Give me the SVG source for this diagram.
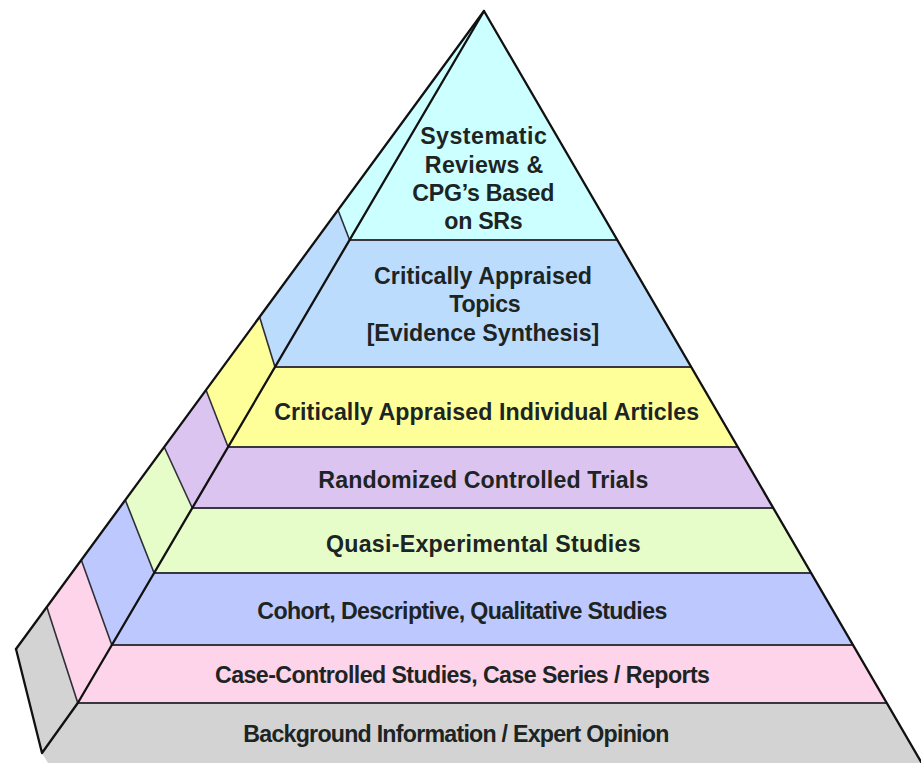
<svg xmlns="http://www.w3.org/2000/svg" width="921" height="763" viewBox="0 0 921 763">
  <style>
    .lbl { font-family: "Liberation Sans", Arial, sans-serif; font-weight: bold; font-size: 23.2px; fill: #1c2424; text-anchor: middle; }
    .sep { stroke: #3a3640; stroke-width: 2; fill: none; }
    .div { stroke: #2e2e36; stroke-width: 1.6; fill: none; }
    .edge { stroke: #111; stroke-width: 2.3; fill: none; stroke-linejoin: round; stroke-linecap: round; }
  </style>
  <rect width="921" height="763" fill="#ffffff"/>

  <!-- Level 1: systematic reviews -->
  <g id="tier-systematic-reviews">
    <polygon points="484,11 338,210 349.6,240" fill="#ccffff"/>
    <polygon points="484,11 349.6,240 617.3,240" fill="#ccffff"/>
    <text class="lbl" x="483.5" y="144.3" textLength="126.7">Systematic</text>
    <text class="lbl" x="484" y="172.7" textLength="118.3">Reviews &amp;</text>
    <text class="lbl" x="483.3" y="201" textLength="142">CPG’s Based</text>
    <text class="lbl" x="483.5" y="229" textLength="78.3">on SRs</text>
  </g>

  <!-- Level 2: critically appraised topics -->
  <g id="tier-appraised-topics">
    <polygon points="338,210 259.6,317 275,367 349.6,240" fill="#bcdcfd"/>
    <polygon points="349.6,240 617.3,240 691.2,367 275,367" fill="#bcdcfd"/>
    <text class="lbl" x="483" y="284.3" textLength="218">Critically Appraised</text>
    <text class="lbl" x="485" y="311.7" textLength="71.3">Topics</text>
    <text class="lbl" x="483" y="340.7" textLength="232.7">[Evidence Synthesis]</text>
  </g>

  <!-- Level 3: appraised individual articles -->
  <g id="tier-appraised-articles">
    <polygon points="259.6,317 206,390 228.1,447 275,367" fill="#ffff99"/>
    <polygon points="275,367 691.2,367 737.8,447 228.1,447" fill="#ffff99"/>
    <text class="lbl" x="486.7" y="420" textLength="425">Critically Appraised Individual Articles</text>
  </g>

  <!-- Level 4: randomized controlled trials -->
  <g id="tier-rct">
    <polygon points="206,390 164.2,447 192.3,508 228.1,447" fill="#dcc4f0"/>
    <polygon points="228.1,447 737.8,447 773.3,508 192.3,508" fill="#dcc4f0"/>
    <text class="lbl" x="483.3" y="487.7" textLength="330">Randomized Controlled Trials</text>
  </g>

  <!-- Level 5: quasi-experimental -->
  <g id="tier-quasi-experimental">
    <polygon points="164.2,447 125.3,500 154.1,573 192.3,508" fill="#e6fdc9"/>
    <polygon points="192.3,508 773.3,508 811.1,573 154.1,573" fill="#e6fdc9"/>
    <text class="lbl" x="483.3" y="551.7" textLength="314.7">Quasi-Experimental Studies</text>
  </g>

  <!-- Level 6: cohort / descriptive / qualitative -->
  <g id="tier-cohort">
    <polygon points="125.3,500 81.3,560 111.8,645 154.1,573" fill="#bdc9fe"/>
    <polygon points="154.1,573 811.1,573 853,645 111.8,645" fill="#bdc9fe"/>
    <text class="lbl" x="462.3" y="619.3" textLength="410">Cohort, Descriptive, Qualitative Studies</text>
  </g>

  <!-- Level 7: case-controlled -->
  <g id="tier-case-controlled">
    <polygon points="81.3,560 46.8,607 77.8,703 111.8,645" fill="#fed4ea"/>
    <polygon points="111.8,645 853,645 886.7,703 77.8,703" fill="#fed4ea"/>
    <text class="lbl" x="462.5" y="682.7" textLength="495">Case-Controlled Studies, Case Series / Reports</text>
  </g>

  <!-- Level 8: background information -->
  <g id="tier-background">
    <polygon points="46.8,607 16,649 42,753 77.8,703" fill="#d3d3d3"/>
    <polygon points="77.8,703 886.7,703 921.7,763 48,763 42,753" fill="#d3d3d3"/>
    <text class="lbl" x="456.3" y="741.7" textLength="426">Background Information / Expert Opinion</text>
  </g>

  <!-- Tier boundaries and outline -->
  <g id="connectors">
    <line class="sep" x1="349.6" y1="240" x2="617.3" y2="240" stroke="#6a8db0"/>
    <line class="sep" x1="275" y1="367" x2="691.2" y2="367"/>
    <line class="sep" x1="228.1" y1="447" x2="737.8" y2="447"/>
    <line class="sep" x1="192.3" y1="508" x2="773.3" y2="508"/>
    <line class="sep" x1="154.1" y1="573" x2="811.1" y2="573"/>
    <line class="sep" x1="111.8" y1="645" x2="853" y2="645"/>
    <line class="sep" x1="77.8" y1="703" x2="886.7" y2="703"/>

    <line class="div" x1="338" y1="210" x2="349.6" y2="240"/>
    <line class="div" x1="259.6" y1="317" x2="275" y2="367"/>
    <line class="div" x1="206" y1="390" x2="228.1" y2="447"/>
    <line class="div" x1="164.2" y1="447" x2="192.3" y2="508"/>
    <line class="div" x1="125.3" y1="500" x2="154.1" y2="573"/>
    <line class="div" x1="81.3" y1="560" x2="111.8" y2="645"/>
    <line class="div" x1="46.8" y1="607" x2="77.8" y2="703"/>

    <path class="edge" d="M16,649 L484,11 L921.7,763"/>
    <path class="edge" d="M484,11 L77.8,703 L42,753 L16,649"/>
  </g>
</svg>
